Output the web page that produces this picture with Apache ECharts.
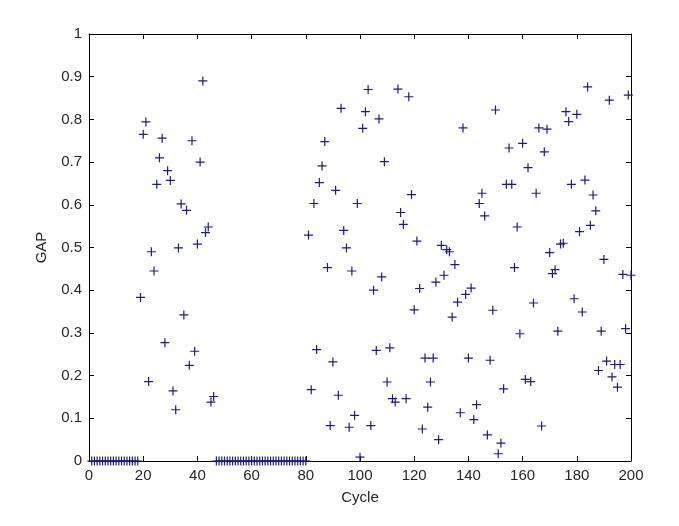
<!DOCTYPE html>
<html>
<head>
<meta charset="utf-8">
<script src="https://cdn.jsdelivr.net/npm/echarts@6/dist/echarts.min.js"></script>
<style>
  html, body {margin: 0; padding: 0; background: #fff;}
  #chart {width: 679px; height: 526px;}
</style>
</head>
<body>
<div id="chart"></div>
<script>
// GAP value for each cycle, cycle 1 .. 200
const gapA = [ // cycles 1-46
  0, 0, 0, 0, 0, 0, 0, 0, 0, 0, 0, 0, 0, 0, 0, 0, 0, 0,
  0.383, 0.765, 0.794, 0.186, 0.490, 0.445, 0.648, 0.710, 0.756, 0.277,
  0.680, 0.657, 0.164, 0.120, 0.499, 0.602, 0.342, 0.587, 0.224, 0.750,
  0.257, 0.508, 0.700, 0.890, 0.535, 0.548, 0.138, 0.151
];
const gapB = [ // cycles 47-80
  0, 0, 0, 0, 0, 0, 0, 0, 0, 0, 0, 0, 0, 0, 0, 0, 0,
  0, 0, 0, 0, 0, 0, 0, 0, 0, 0, 0, 0, 0, 0, 0, 0, 0
];
const gapC = [ // cycles 81-140
  0.529, 0.167, 0.603, 0.261, 0.652, 0.691, 0.748, 0.453, 0.083, 0.232,
  0.634, 0.154, 0.826, 0.540, 0.499, 0.079, 0.445, 0.107, 0.603, 0.009,
  0.779, 0.818, 0.870, 0.083, 0.400, 0.259, 0.801, 0.431, 0.701, 0.185,
  0.265, 0.146, 0.138, 0.871, 0.582, 0.554, 0.146, 0.853, 0.624, 0.354,
  0.515, 0.404, 0.075, 0.241, 0.126, 0.185, 0.241, 0.419, 0.050, 0.505,
  0.435, 0.495, 0.490, 0.337, 0.460, 0.372, 0.113, 0.780, 0.390, 0.241
];
const gapD = [ // cycles 141-200
  0.405, 0.097, 0.132, 0.603, 0.627, 0.574, 0.061, 0.236, 0.353, 0.822,
  0.017, 0.042, 0.169, 0.648, 0.733, 0.648, 0.453, 0.548, 0.298, 0.744,
  0.191, 0.687, 0.186, 0.370, 0.627, 0.780, 0.082, 0.724, 0.777, 0.488,
  0.439, 0.448, 0.304, 0.508, 0.510, 0.818, 0.795, 0.648, 0.380, 0.812,
  0.537, 0.349, 0.658, 0.876, 0.552, 0.623, 0.586, 0.212, 0.304, 0.472,
  0.234, 0.845, 0.197, 0.226, 0.173, 0.226, 0.437, 0.310, 0.857, 0.435
];
const gap = gapA.concat(gapB, gapC, gapD);

let chart = echarts.init(document.getElementById("chart"));
let points = [];
for (let i = 0; i < gap.length; i++) {
    points.push([i + 1, gap[i]]);
}

const font = "Liberation Sans";
const ink = '#262626';
const plusColor = '#1c1c7c';

// box axis helper (MATLAB style: ticks inside, on all four sides)
function boxAxis(extra) {
    return Object.assign({
        type: 'value',
        axisLine: {show: true, onZero: false, lineStyle: {color: '#000', width: 1}},
        axisTick: {show: true, inside: true, length: 5, lineStyle: {color: '#000'}},
        splitLine: {show: false}
    }, extra);
}

let option = {
    backgroundColor: '#fff',
    animation: false,
    grid: {left: 89, right: 48, top: 34, bottom: 65},
    xAxis: [
        boxAxis({
            min: 0, max: 200, interval: 20,
            name: 'Cycle', nameLocation: 'middle', nameGap: 29,
            nameTextStyle: {fontFamily: font, fontSize: 15, color: ink},
            axisLabel: {fontFamily: font, fontSize: 15, color: ink, margin: 7}
        }),
        boxAxis({
            min: 0, max: 200, interval: 20, position: 'top',
            axisLabel: {show: false}
        })
    ],
    yAxis: [
        boxAxis({
            min: 0, max: 1, interval: 0.1,
            name: 'GAP', nameLocation: 'middle', nameGap: 40,
            nameTextStyle: {fontFamily: font, fontSize: 15, color: ink},
            axisLabel: {fontFamily: font, fontSize: 15, color: ink, margin: 7}
        }),
        boxAxis({
            min: 0, max: 1, interval: 0.1, position: 'right',
            axisLabel: {show: false}
        })
    ],
    series: [
        {
            type: 'scatter',
            data: points,
            clip: false,
            symbol: 'path://M0,5L10,5M5,0L5,10',
            symbolSize: 9,
            itemStyle: {color: 'none', borderColor: plusColor, borderWidth: 1.2, opacity: 1}
        }
    ]
};
chart.setOption(option);
</script>
</body>
</html>
